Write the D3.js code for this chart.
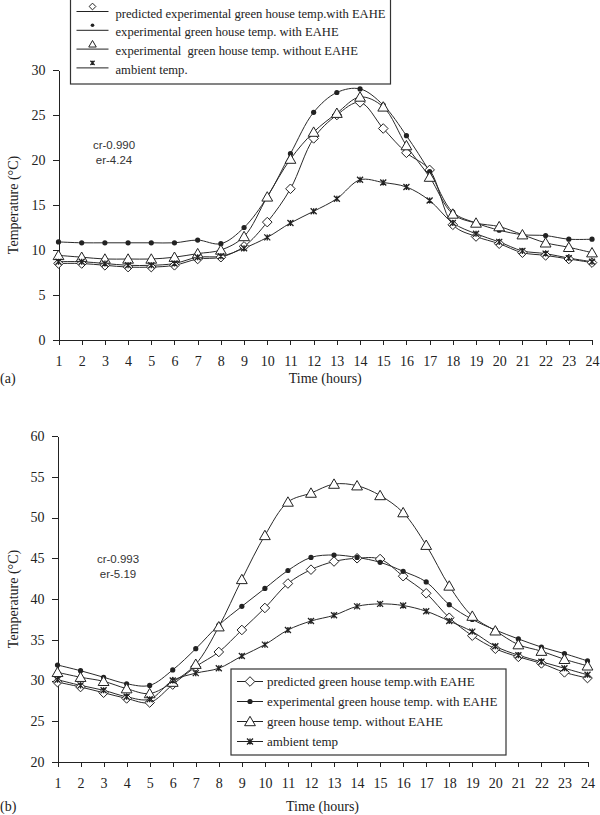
<!DOCTYPE html>
<html lang="en">
<head>
  <meta charset="utf-8">
  <title>Green house temperature</title>
  <style>
    body {
      margin: 0;
      background: #fff;
    }
    svg {
      display: block;
      font-family: 'Liberation Serif', 'Times New Roman', serif;
    }
    .axis path, .axis line {
      stroke: #222;
      stroke-width: 1;
      shape-rendering: crispEdges;
    }
    .axis text {
      font-family: 'Liberation Serif', 'Times New Roman', serif;
      font-size: 14px;
      fill: #222;
    }
    .series {
      fill: none;
      stroke: #2a2a2a;
      stroke-width: 1;
    }
    .note {
      font-family: 'Liberation Sans', Arial, sans-serif;
      font-size: 11.5px;
      fill: #333;
    }
    .title {
      font-size: 14px;
      fill: #222;
    }
    .legend-text {
      fill: #222;
    }
  </style>
</head>
<body>
  <div id="chart"></div>

  <script src="https://d3js.org/d3.v7.min.js"></script>
  <script>
    // Data
    var hours = [1, 2, 3, 4, 5, 6, 7, 8, 9, 10, 11, 12, 13, 14, 15, 16, 17, 18, 19, 20, 21, 22, 23, 24];

    // (a) winter day
    var aPredicted = [8.5, 8.5, 8.3, 8.1, 8.1, 8.3, 9.0, 9.2, 10.4, 13.1, 16.8, 22.4, 25.0, 26.4, 23.5, 20.8, 18.9, 12.8, 11.5, 10.7, 9.7, 9.4, 9.0, 8.6];
    var aWithEahe = [10.9, 10.8, 10.8, 10.8, 10.8, 10.8, 11.1, 10.7, 12.5, 15.9, 20.7, 25.3, 27.5, 27.9, 26.1, 22.7, 18.7, 14.2, 13.0, 12.2, 11.7, 11.6, 11.2, 11.2];
    var aWithout = [9.4, 9.2, 9.0, 9.0, 9.0, 9.2, 9.6, 10.0, 11.5, 15.9, 20.1, 23.1, 25.2, 27.0, 25.9, 21.6, 18.1, 14.0, 13.0, 12.6, 11.7, 10.8, 10.3, 9.7];
    var aAmbient = [8.7, 8.7, 8.5, 8.3, 8.3, 8.5, 9.2, 9.3, 10.2, 11.4, 13.0, 14.3, 15.7, 17.8, 17.5, 17.0, 15.5, 13.0, 11.8, 10.9, 9.9, 9.6, 9.1, 8.7];
    var aLabels = ["predicted experimental green house temp.with EAHE", "experimental green house temp. with EAHE",
                   "experimental  green house temp. without EAHE", "ambient temp."];
    var aYTicks = [0, 5, 10, 15, 20, 25, 30];

    // (b) summer day
    var bPredicted = [29.8, 29.2, 28.5, 27.8, 27.3, 29.5, 31.7, 33.5, 36.2, 38.9, 41.9, 43.6, 44.6, 45.0, 44.9, 42.8, 40.7, 37.7, 35.5, 33.9, 32.9, 32.1, 31.0, 30.3];
    var bWithEahe = [31.9, 31.2, 30.4, 29.6, 29.4, 31.3, 33.9, 36.8, 39.1, 41.3, 43.5, 45.1, 45.4, 45.1, 44.5, 43.4, 42.1, 39.3, 37.5, 36.2, 35.1, 34.1, 33.3, 32.4];
    var bWithout = [31.0, 30.4, 29.9, 29.0, 28.4, 29.8, 32.0, 36.6, 42.4, 47.8, 51.9, 53.0, 54.1, 53.9, 52.7, 50.6, 46.6, 41.6, 37.9, 36.1, 34.4, 33.6, 32.6, 31.8];
    var bAmbient = [30.1, 29.4, 28.8, 28.0, 27.7, 30.0, 30.9, 31.5, 33.0, 34.4, 36.2, 37.3, 38.0, 39.1, 39.4, 39.2, 38.5, 37.3, 36.0, 34.2, 33.1, 32.3, 31.5, 30.7];
    var bLabels = ["predicted green house temp.with EAHE", "experimental green house temp. with EAHE",
                   "green house temp. without EAHE", "ambient temp"];
    var bYTicks = [20, 25, 30, 35, 40, 45, 50, 55, 60];

    var markers = ["diamond", "dot", "triangle", "star"];

    var svg = d3.select("#chart")
      .append("svg")
      .attr("width", 600)
      .attr("height", 815);

    // Draw one marker centred on x, y (k scales the size)
    function drawMarker(g, type, x, y, k) {
      k = k || 1;
      if (type == "diamond") {
        var d = 4.8 * k;
        g.append("path")
          .attr("d", "M" + x + "," + (y - d) + "L" + (x + d) + "," + y + "L" + x + "," + (y + d) + "L" + (x - d) + "," + y + "Z")
          .attr("fill", "#fff").attr("stroke", "#222").attr("stroke-width", 1);
      } else if (type == "dot") {
        g.append("circle")
          .attr("cx", x).attr("cy", y).attr("r", 2.6 * k)
          .attr("fill", "#222");
      } else if (type == "triangle") {
        g.append("path")
          .attr("d", "M" + x + "," + (y - 5.2 * k) + "L" + (x + 5.4 * k) + "," + (y + 4.2 * k) + "L" + (x - 5.4 * k) + "," + (y + 4.2 * k) + "Z")
          .attr("fill", "#fff").attr("stroke", "#222").attr("stroke-width", 1);
      } else {
        var s = 3 * k;
        g.append("path")
          .attr("d", "M" + (x - s) + "," + (y - s) + "L" + (x + s) + "," + (y + s) +
                     "M" + (x + s) + "," + (y - s) + "L" + (x - s) + "," + (y + s) +
                     "M" + x + "," + (y - s) + "L" + x + "," + (y + s))
          .attr("fill", "none").attr("stroke", "#222").attr("stroke-width", 1.3);
      }
    }

    // Draw one panel
    function drawPanel(opts) {
      var x = d3.scaleLinear().domain([1, 24]).range(opts.xRange);
      var y = d3.scaleLinear().domain(opts.yDomain).range(opts.yRange);

      var g = svg.append("g");

      // Axes
      g.append("g")
        .attr("class", "axis")
        .attr("transform", "translate(0," + opts.yRange[0] + ")")
        .call(d3.axisBottom(x).tickValues(hours).tickFormat(d3.format("d")).tickSize(5).tickSizeOuter(0).tickPadding(11));

      g.append("g")
        .attr("class", "axis")
        .attr("transform", "translate(" + opts.xRange[0] + ",0)")
        .call(d3.axisLeft(y).tickValues(opts.yTicks).tickSize(6).tickSizeOuter(0).tickPadding(7));

      // Axis titles
      g.append("text")
        .attr("class", "title")
        .attr("transform", "translate(" + 18 + "," + ((opts.yRange[0] + opts.yRange[1]) / 2) + ") rotate(-90)")
        .attr("text-anchor", "middle")
        .text("Temperature (\u00B0C)");

      g.append("text")
        .attr("class", "title")
        .attr("x", (opts.xRange[0] + opts.xRange[1]) / 2)
        .attr("y", opts.titleY)
        .attr("text-anchor", "middle")
        .text("Time (hours)");

      g.append("text")
        .attr("class", "title")
        .attr("x", 0)
        .attr("y", opts.titleY)
        .text(opts.tag);

      // Correlation notes
      g.append("text").attr("class", "note")
        .attr("x", opts.noteX).attr("y", opts.noteY)
        .attr("text-anchor", "middle").text(opts.notes[0]);
      g.append("text").attr("class", "note")
        .attr("x", opts.noteX).attr("y", opts.noteY + 15)
        .attr("text-anchor", "middle").text(opts.notes[1]);

      // Lines
      var line = d3.line()
        .x(function(d, i) { return x(hours[i]); })
        .y(function(d) { return y(d); })
        .curve(d3.curveCatmullRom.alpha(0.5));

      opts.series.forEach(function(values) {
        g.append("path")
          .attr("class", "series")
          .attr("d", line(values));
      });

      opts.series.forEach(function(values, k) {
        values.forEach(function(v, i) {
          drawMarker(g, markers[k], x(hours[i]), y(v));
        });
      });

      // Legend
      var lg = g.append("g");
      lg.append("rect")
        .attr("x", opts.legend.x).attr("y", opts.legend.y)
        .attr("width", opts.legend.w).attr("height", opts.legend.h)
        .attr("fill", "#fff").attr("stroke", "#333").attr("stroke-width", 1.2);

      opts.labels.forEach(function(label, k) {
        var rowY = opts.legend.y + opts.legend.first + k * opts.legend.step;
        lg.append("line")
          .attr("x1", opts.legend.x + opts.legend.lineX[0]).attr("x2", opts.legend.x + opts.legend.lineX[1])
          .attr("y1", rowY).attr("y2", rowY)
          .attr("stroke", "#222").attr("stroke-width", 1);
        drawMarker(lg, markers[k], opts.legend.x + (opts.legend.lineX[0] + opts.legend.lineX[1]) / 2,
                   rowY - opts.legend.markerShift, opts.legend.markerScale);
        lg.append("text")
          .attr("class", "legend-text")
          .attr("x", opts.legend.x + opts.legend.textX)
          .attr("y", rowY + opts.legend.textDy)
          .style("font-size", opts.legend.font + "px")
          .style("white-space", "pre")
          .text(label);
      });
    }

    drawPanel({
      xRange: [58.5, 592],
      yDomain: [0, 30],
      yRange: [340, 70],
      yTicks: aYTicks,
      titleY: 383,
      tag: "(a)",
      notes: ["cr-0.990", "er-4.24"],
      noteX: 114,
      noteY: 149,
      series: [aPredicted, aWithEahe, aWithout, aAmbient],
      labels: aLabels,
      legend: { x: 70.5, y: -1, w: 320, h: 85, first: 12.5, step: 18.8, lineX: [6, 38], textX: 45,
                markerShift: 5, markerScale: 0.7, textDy: 6, font: 12.6 }
    });

    drawPanel({
      xRange: [57.5, 587.5],
      yDomain: [20, 60],
      yRange: [762, 436],
      yTicks: bYTicks,
      titleY: 811,
      tag: "(b)",
      notes: ["cr-0.993", "er-5.19"],
      noteX: 118,
      noteY: 563,
      series: [bPredicted, bWithEahe, bWithout, bAmbient],
      labels: bLabels,
      legend: { x: 231, y: 669, w: 275, h: 86, first: 12.5, step: 20, lineX: [6, 32], textX: 36,
                markerShift: 0, markerScale: 1, textDy: 4.5, font: 13 }
    });
  </script>
</body>
</html>
